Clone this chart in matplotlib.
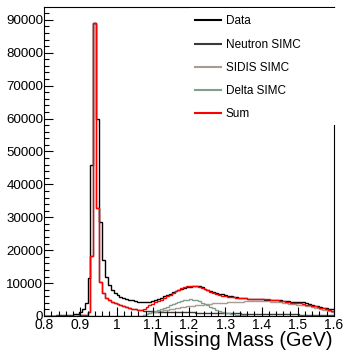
import numpy as np
import matplotlib
matplotlib.use("Agg")
import matplotlib.pyplot as plt
from matplotlib.ticker import MultipleLocator, FuncFormatter
from matplotlib.patches import Rectangle
from matplotlib.lines import Line2D

plt.rcParams['font.family'] = ['Liberation Sans', 'DejaVu Sans']

# 100 bins, 0.8 - 1.6 GeV
bin_lo, bin_hi, n_bins = 0.8, 1.6, 100
edges = np.linspace(bin_lo, bin_hi, n_bins + 1)

data = [100, 100, 150, 150, 200, 200, 250, 300, 350, 450,
        500, 600, 1300, 2000, 4000, 11500, 45900, 89000, 59800, 28500,
        17000, 12000, 9500, 7900, 6900, 6300, 5900, 5500, 5200, 5000,
        4800, 4600, 4400, 4200, 4150, 4200, 4400, 4700, 5000, 5300,
        5600, 6000, 6400, 6800, 7200, 7600, 8000, 8300, 8600, 8800,
        8900, 9000, 9100, 9000, 8700, 8300, 7900, 7500, 7200, 7000,
        6800, 6600, 6400, 6200, 6000, 5850, 5700, 5600, 5500, 5400,
        5300, 5250, 5200, 5150, 5100, 5050, 5000, 4950, 4900, 4850,
        4800, 4750, 4700, 4600, 4500, 4400, 4350, 4300, 4300, 4200,
        4000, 3700, 3400, 3100, 2900, 2700, 2500, 2300, 2200, 2000]

neutron = [0, 0, 0, 0, 0, 50, 50, 50, 100, 100,
           100, 150, 200, 300, 400, 1300, 18200, 89000, 32700, 10200,
           6900, 5400, 4800, 4200, 3800, 3500, 3200, 2900, 2650, 2450,
           2250, 2100, 1950, 1800, 1650, 1500, 1400, 1380, 1350, 1320,
           1300, 1280, 1260, 1240, 1220, 1200, 1180, 1160, 1140, 1120,
           1100, 1075, 1050, 1030, 1010, 990, 970, 950, 930, 910,
           890, 870, 850, 830, 815, 800, 780, 760, 740, 720,
           700, 680, 660, 640, 620, 600, 590, 580, 570, 560,
           550, 540, 530, 520, 510, 500, 490, 470, 450, 440,
           430, 420, 400, 390, 380, 370, 350, 330, 310, 300]

sidis = [0] * 34 + [
    300, 600, 1000, 1150, 1300, 1450, 1600, 1750, 1900, 2050,
    2200, 2400, 2500, 2650, 2750, 2900, 3000, 3100, 3250, 3350,
    3450, 3550, 3600, 3700, 3800, 3850, 3950, 4000, 4100, 4150,
    4200, 4300, 4350, 4400, 4400, 4450, 4450, 4500, 4500, 4500,
    4500, 4500, 4500, 4450, 4400, 4350, 4250, 4150, 4000, 3850,
    3700, 3600, 3500, 3400, 3350, 3200, 3050, 2900, 2700, 2550,
    2400, 2200, 1950, 1700, 1450, 1200]

delta = [0] * 34 + [
    200, 500, 900, 1200, 1500, 1750, 2000, 2400, 2800, 3200,
    3600, 4000, 4300, 4600, 4850, 5000, 5050, 5000, 4800, 4500,
    4100, 3700, 3200, 2700, 2300, 1900, 1600, 1300, 1050, 850,
    700, 550, 420, 320, 230, 160, 100, 60, 30] + [0] * 27

total = np.array(neutron) + np.array(sidis) + np.array(delta)

labels = ["Data", "Neutron SIMC", "SIDIS SIMC", "Delta SIMC", "Sum"]
colors = ["#000000", "#3a3a3a", "#a89c90", "#7f9f8c", "#ff0000"]

W, H = 346, 350
fig = plt.figure(figsize=(W / 100, H / 100), dpi=100)
ax = fig.add_axes([44 / W, 34 / H, 290 / W, 309 / H])

series = [data, neutron, sidis, delta, total]
for vals, c, lab in zip(series, colors, labels):
    ax.stairs(vals, edges, color=c, lw=1.0, baseline=None, label=lab)

ax.set_xlim(0.8, 1.6)
ax.set_ylim(0, 93900)
ax.xaxis.set_major_locator(MultipleLocator(0.1))
ax.xaxis.set_minor_locator(MultipleLocator(0.02))
ax.yaxis.set_major_locator(MultipleLocator(10000))
ax.yaxis.set_minor_locator(MultipleLocator(2000))


def xfmt(v, p):
    s = f"{v:.1f}"
    if s == "1.0":
        s = "1"
    return s


ax.xaxis.set_major_formatter(FuncFormatter(xfmt))
ax.yaxis.set_major_formatter(FuncFormatter(lambda v, p: f"{int(round(v))}"))
ax.tick_params(which='both', direction='in', top=False, right=False,
               width=0.8, color='black')
ax.tick_params(axis='x', labelsize=10, pad=1.5)
ax.tick_params(axis='y', labelsize=9.6, pad=0.6)
ax.tick_params(which='major', length=6.5)
ax.tick_params(which='minor', length=3.5)
for sp in ax.spines.values():
    sp.set_linewidth(0.8)

fig.text(333 / W, 1 - 346 / H, "Missing Mass (GeV)", ha='right', va='baseline',
         fontsize=14.3)

# legend area (white box covering the frame)
fig.patches.append(Rectangle((190 / W, 1 - 125 / H), (340 - 190) / W, (125 - 8) / H,
                             transform=fig.transFigure, facecolor='white',
                             edgecolor='none', zorder=5))
handles = [Line2D([], [], color=c, lw=1.5) for c in colors]
leg = fig.legend(handles, labels, loc='upper left',
                 bbox_to_anchor=(195 / W, 1 - 15.5 / H), frameon=False,
                 fontsize=8.5, handlelength=2.2, handletextpad=0.42,
                 labelspacing=0.95, borderpad=0, borderaxespad=0)
leg.set_zorder(6)

fig.savefig("out.png", dpi=100)
